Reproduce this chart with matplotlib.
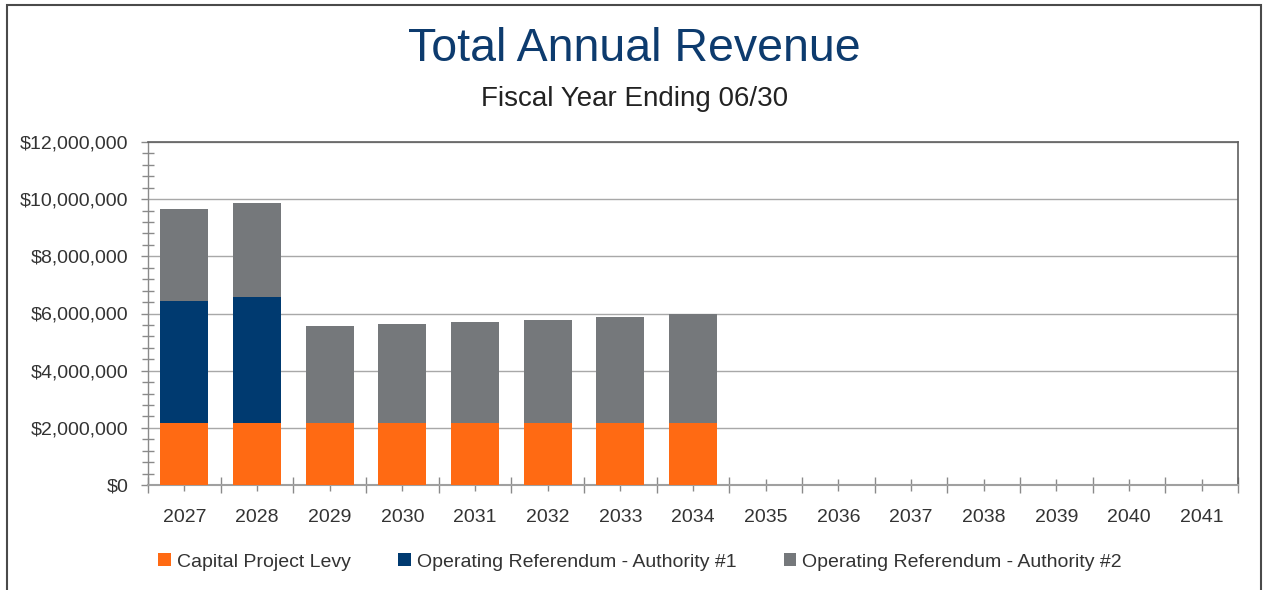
import matplotlib
matplotlib.use('Agg')
import matplotlib.pyplot as plt
from matplotlib.ticker import FuncFormatter, MultipleLocator, FixedLocator
from matplotlib.patches import Rectangle

plt.rcParams['font.family'] = ['Liberation Sans', 'DejaVu Sans']

# Dados
anos = ['2027', '2028', '2029', '2030', '2031', '2032', '2033', '2034',
        '2035', '2036', '2037', '2038', '2039', '2040', '2041']
capital_levy = [2180000, 2180000, 2180000, 2180000, 2180000, 2180000, 2180000, 2180000]
autoridade_1 = [4240000, 4400000, 0, 0, 0, 0, 0, 0]
autoridade_2 = [3220000, 3280000, 3380000, 3440000, 3530000, 3610000, 3700000, 3800000]

cores = {
    'Capital Project Levy': '#FF6A13',
    'Operating Referendum - Authority #1': '#003A70',
    'Operating Referendum - Authority #2': '#75787B',
}

fig = plt.figure(figsize=(12.66, 5.90), dpi=100)
ax = fig.add_axes([148 / 1266, 1 - 485 / 590, 1090 / 1266, 343 / 590])

x = list(range(len(capital_levy)))
base2 = [a + b for a, b in zip(capital_levy, autoridade_1)]
largura = 0.665
ax.bar(x, capital_levy, width=largura, color=cores['Capital Project Levy'],
       label='Capital Project Levy', zorder=3)
ax.bar(x, autoridade_1, width=largura, bottom=capital_levy,
       color=cores['Operating Referendum - Authority #1'],
       label='Operating Referendum - Authority #1', zorder=3)
ax.bar(x, autoridade_2, width=largura, bottom=base2,
       color=cores['Operating Referendum - Authority #2'],
       label='Operating Referendum - Authority #2', zorder=3)

ax.set_xlim(-0.5, len(anos) - 0.5)
ax.set_ylim(0, 12000000)

# Eixo Y
ax.yaxis.set_major_locator(MultipleLocator(2000000))
ax.yaxis.set_minor_locator(MultipleLocator(400000))
ax.yaxis.set_major_formatter(FuncFormatter(lambda v, p: f'${v:,.0f}'))
ax.tick_params(axis='y', which='major', direction='out', length=4.8, width=1.0,
               color='#8a8a8a', labelsize=14, labelcolor='#333333', pad=9.5)
ax.tick_params(axis='y', which='minor', direction='inout', length=8, width=1.0,
               color='#8a8a8a')

# Eixo X
ax.set_xticks(range(len(anos)))
ax.set_xticklabels(anos)
ax.xaxis.set_minor_locator(FixedLocator([i - 0.5 for i in range(len(anos) + 1)]))
ax.tick_params(axis='x', which='major', direction='inout', length=8.2, width=1.0,
               color='#8a8a8a', labelsize=14, labelcolor='#333333', pad=13)
ax.tick_params(axis='x', which='minor', direction='inout', length=12, width=1.0,
               color='#8a8a8a')

ax.grid(axis='y', which='major', color='#a8a8a8', linewidth=1.0, zorder=0)
for lado in ['top', 'right']:
    ax.spines[lado].set_color('#5f5f5f')
    ax.spines[lado].set_linewidth(1.2)
ax.spines['left'].set_color('#8a8a8a')
ax.spines['bottom'].set_color('#a0a0a0')
ax.spines['left'].set_linewidth(1.0)
ax.spines['bottom'].set_linewidth(1.5)

# Títulos
fig.text(634 / 1266, 1 - 49 / 590, 'Total Annual Revenue', ha='center', va='center',
         fontsize=33.5, color='#0D3B6E')
fig.text(635 / 1266, 1 - 99 / 590, 'Fiscal Year Ending 06/30', ha='center', va='center',
         fontsize=20, color='#222222')

# Legenda
fig.legend(loc='center', bbox_to_anchor=(640 / 1266, 1 - 562 / 590), ncol=3,
           frameon=False, fontsize=14, handlelength=0.65, handleheight=0.65,
           handletextpad=0.3, columnspacing=2.45, labelcolor='#333333')

# Moldura externa
fig.patches.append(Rectangle((7 / 1266, -0.1), 1254 / 1266, 1.1 - 5 / 590,
                             transform=fig.transFigure, fill=False,
                             edgecolor='#4a4a4a', linewidth=1.5))

fig.savefig('out.png', dpi=100)
plt.close()
